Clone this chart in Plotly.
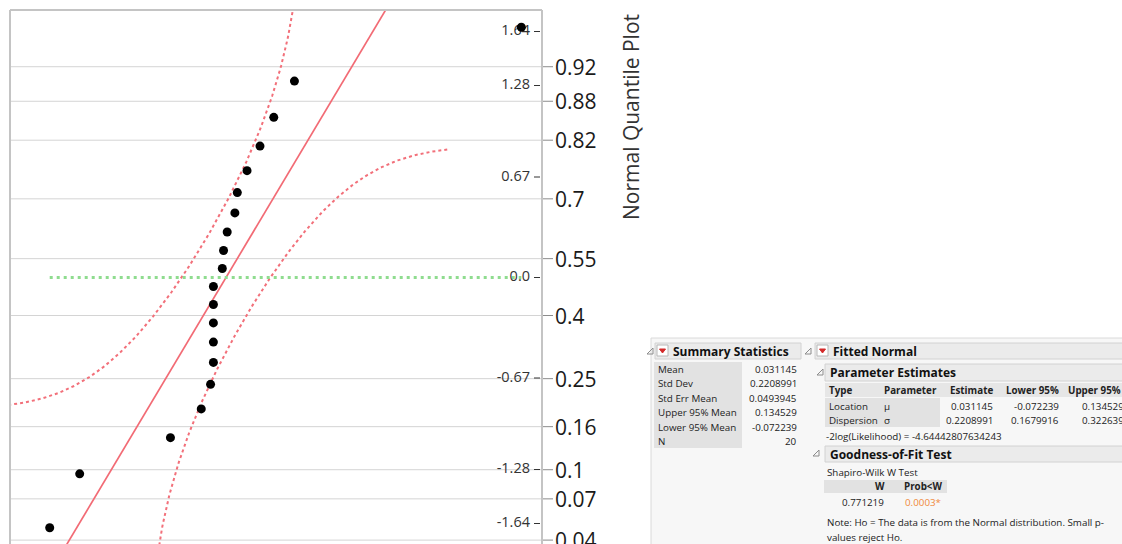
import numpy as np
import plotly.graph_objects as go
from statistics import NormalDist

# ---------------- data ----------------
values = [-0.404, -0.330, -0.106, -0.030, -0.007, 0.0, 0.0, 0.0, 0.0, 0.0,
          0.022, 0.025, 0.034, 0.053, 0.059, 0.083, 0.115, 0.149, 0.200, 0.760]
mean = 0.031145
std_dev = 0.2208991
lilliefors_d = 0.19
band_u_limit = 2.5

prob_ticks = [0.04, 0.07, 0.1, 0.16, 0.25, 0.4, 0.55, 0.7, 0.82, 0.88, 0.92]
prob_labels = ["0.04", "0.07", "0.1", "0.16", "0.25", "0.4", "0.55", "0.7", "0.82", "0.88", "0.92"]
z_ticks = [-1.64, -1.28, -0.67, 0.0, 0.67, 1.28, 1.64]
z_labels = ["-1.64", "-1.28", "-0.67", "0.0", "0.67", "1.28", "1.64"]
axis_title = "Normal Quantile Plot"

summary_labels = ["Mean", "Std Dev", "Std Err Mean", "Upper 95% Mean", "Lower 95% Mean", "N"]
summary_values = ["0.031145", "0.2208991", "0.0493945", "0.134529", "-0.072239", "20"]
param_columns = ["Type", "Parameter", "Estimate", "Lower 95%", "Upper 95%"]
param_types = ["Location", "Dispersion"]
param_symbols = ["μ", "σ"]
param_estimates = ["0.031145", "0.2208991"]
param_lower = ["-0.072239", "0.1679916"]
param_upper = ["0.134529", "0.3226393"]
loglik_text = "-2log(Likelihood) = -4.64442807634243"
sw_title = "Shapiro-Wilk W Test"
sw_columns = ["W", "Prob<W"]
sw_w = "0.771219"
sw_p = "0.0003*"
note_lines = ["Note: Ho = The data is from the Normal distribution. Small p-",
              "values reject Ho."]

# ---------------- geometry ----------------
W, H = 1122, 544
ML, MR, MT, MB = 10, 580, 10, 0
PW, PH = W - ML - MR, H - MT - MB
xmin, xmax = -0.502, 0.811
zmin, zmax = -1.7767, 1.7833
FONT = "Segoe UI, Open Sans, sans-serif"

def X(px):
    return (px - ML) / PW

def Y(py):
    return (H - MB - py) / PH

def xv(px):
    return xmin + (px - ML) / PW * (xmax - xmin)

nd = NormalDist()
n = len(values)
sorted_vals = sorted(values)
zq = [nd.inv_cdf((i + 1) / (n + 1)) for i in range(n)]
prob_z = [nd.inv_cdf(p) for p in prob_ticks]

fig = go.Figure()

shapes = []
annotations = []

# probability gridlines (drawn below traces)
for zt in prob_z:
    shapes.append(dict(type="line", xref="paper", yref="y", x0=0, x1=1, y0=zt, y1=zt,
                       line=dict(color="#d4d4d4", width=1), layer="below"))

# confidence bands (Lilliefors)
u = np.linspace(-band_u_limit, band_u_limit, 500)
cdf = np.array([nd.cdf(t) for t in u])
p_up = cdf + lilliefors_d
m = p_up < 0.99999
fig.add_trace(go.Scatter(x=mean + std_dev * u[m], y=[nd.inv_cdf(p) for p in p_up[m]],
                         mode="lines", line=dict(color="#f2707a", width=2, dash="3px,3px"),
                         hoverinfo="skip"))
p_lo = cdf - lilliefors_d
m = p_lo > 0.00001
fig.add_trace(go.Scatter(x=mean + std_dev * u[m], y=[nd.inv_cdf(p) for p in p_lo[m]],
                         mode="lines", line=dict(color="#f2707a", width=2, dash="3px,3px"),
                         hoverinfo="skip"))
# fitted normal line
zl = np.array([-2.2, 2.2])
fig.add_trace(go.Scatter(x=mean + std_dev * zl, y=zl, mode="lines",
                         line=dict(color="#f26b75", width=1.7), hoverinfo="skip"))
# reference line at z = 0
fig.add_trace(go.Scatter(x=[min(values), max(values)], y=[0, 0], mode="lines",
                         line=dict(color="#8fdc8f", width=3, dash="3px,4px"), hoverinfo="skip"))
# z tick labels inside plot
fig.add_trace(go.Scatter(x=[xv(530)] * len(z_ticks), y=z_ticks, mode="text", text=z_labels,
                         textposition="middle left",
                         textfont=dict(size=14.5, color="#333333", family=FONT), hoverinfo="skip"))
# data points
fig.add_trace(go.Scatter(x=sorted_vals, y=zq, mode="markers",
                         marker=dict(color="black", size=9), hoverinfo="skip"))

# z tick dashes
for zt in z_ticks:
    shapes.append(dict(type="line", xref="paper", yref="y", x0=X(534), x1=X(540), y0=zt, y1=zt,
                       line=dict(color="#333333", width=1)))
# probability ticks + labels (outside, right)
for zt, lab in zip(prob_z, prob_labels):
    shapes.append(dict(type="line", xref="paper", yref="y", x0=X(542), x1=X(553), y0=zt, y1=zt,
                       line=dict(color="#8c8c8c", width=1)))
    annotations.append(dict(x=X(554), y=zt, xref="paper", yref="y", text=lab, showarrow=False,
                            xanchor="left", yanchor="middle", borderpad=0,
                            font=dict(size=21, color="#1a1a1a", family=FONT)))
# frame left / top / right
shapes.append(dict(type="line", xref="paper", yref="paper", x0=0, x1=0, y0=-0.05, y1=1,
                   line=dict(color="#c4c4c4", width=2)))
shapes.append(dict(type="line", xref="paper", yref="paper", x0=0, x1=1, y0=1, y1=1,
                   line=dict(color="#c4c4c4", width=2)))
shapes.append(dict(type="line", xref="paper", yref="paper", x0=1, x1=1, y0=-0.05, y1=1,
                   line=dict(color="#c4c4c4", width=2)))

def rect(x0, y0, x1, y1, fill, line=None, lw=1):
    shapes.append(dict(type="rect", xref="paper", yref="paper",
                       x0=X(x0), x1=X(x1), y0=Y(y1), y1=Y(y0), fillcolor=fill,
                       line=dict(color=line if line else fill, width=lw if line else 0),
                       layer="above"))

def path(pts, fill, line, lw=1):
    d = "M " + " L ".join(f"{X(a)},{Y(b)}" for a, b in pts) + " Z"
    shapes.append(dict(type="path", xref="paper", yref="paper", path=d, fillcolor=fill,
                       line=dict(color=line, width=lw), layer="above"))

def disclosure(px, py):
    path([(px, py + 6), (px + 6, py + 6), (px + 6, py)], "rgba(0,0,0,0)", "#8c8c8c", 1)

def red_icon(px, py):
    rect(px, py, px + 11, py + 11, "white", "#b8b8b8", 1)
    path([(px + 2.5, py + 4), (px + 8.5, py + 4), (px + 5.5, py + 8)], "#d42a2a", "#d42a2a", 1)

def txt(s, px, py, size=9.8, bold=False, color="#222222", anchor="left"):
    annotations.append(dict(x=X(px), y=Y(py), xref="paper", yref="paper",
                            text=f"<b>{s}</b>" if bold else s, showarrow=False,
                            xanchor=anchor, yanchor="middle", borderpad=0,
                            font=dict(size=size, color=color, family=FONT)))

# ---------------- right panel ----------------
rect(651, 338, 1130, 560, "#f7f7f7", "#dadada", 1)

# Summary Statistics
disclosure(647, 348)
rect(655, 343, 801, 359, "#ebebeb", "#d2d2d2", 1)
red_icon(657, 345)
txt("Summary Statistics", 672, 351, size=12, bold=True, color="#111111")
rect(654, 362, 742, 448, "#e2e2e2")
row_y = [369, 383.5, 398, 412.5, 427, 441]
for lab, val, yy in zip(summary_labels, summary_values, row_y):
    txt(lab, 657, yy)
    txt(val, 798, yy, anchor="right")

# Fitted Normal
disclosure(805, 348)
rect(815, 343, 1130, 359, "#ebebeb", "#d2d2d2", 1)
red_icon(817, 345)
txt("Fitted Normal", 832, 351, size=12, bold=True, color="#111111")
disclosure(817, 369)
rect(825, 364, 1130, 381, "#ebebeb", "#d2d2d2", 1)
txt("Parameter Estimates", 829, 372, size=12, bold=True, color="#111111")
rect(825, 383, 1130, 397, "#e6e6e6")
rect(825, 398, 940, 427, "#e2e2e2")
txt(param_columns[0], 828, 390, bold=True)
txt(param_columns[1], 883, 390, bold=True)
txt(param_columns[2], 994, 390, bold=True, anchor="right")
txt(param_columns[3], 1060, 390, bold=True, anchor="right")
txt(param_columns[4], 1067, 390, bold=True)
for i, yy in enumerate([406, 420]):
    txt(param_types[i], 828, yy)
    txt(param_symbols[i], 883, yy)
    txt(param_estimates[i], 994, yy, anchor="right")
    txt(param_lower[i], 1060, yy, anchor="right")
    txt(param_upper[i], 1081, yy)
txt(loglik_text, 825, 436)

# Goodness-of-Fit
disclosure(813, 450)
rect(825, 446, 1130, 462, "#ebebeb", "#d2d2d2", 1)
txt("Goodness-of-Fit Test", 829, 454, size=12, bold=True, color="#111111")
txt(sw_title, 826, 472)
rect(824, 480, 947, 493, "#e2e2e2")
txt(sw_columns[0], 886, 486, bold=True, anchor="right")
txt(sw_columns[1], 943, 486, bold=True, anchor="right")
txt(sw_w, 885, 502, anchor="right")
txt(sw_p, 942, 502, anchor="right", color="#f08a3c")
txt(note_lines[0], 826, 522)
txt(note_lines[1], 826, 537)

# axis title
annotations.append(dict(x=X(631), y=Y(117), xref="paper", yref="paper", text=axis_title,
                        textangle=-90, showarrow=False, xanchor="center", yanchor="middle",
                        font=dict(size=21, color="#333333", family=FONT)))

fig.update_layout(
    width=W, height=H, autosize=False,
    margin=dict(l=ML, r=MR, t=MT, b=MB, pad=0),
    paper_bgcolor="white", plot_bgcolor="white", showlegend=False,
    xaxis=dict(range=[xmin, xmax], visible=False, fixedrange=True),
    yaxis=dict(range=[zmin, zmax], visible=False, showgrid=False, zeroline=False,
               fixedrange=True),
    shapes=shapes, annotations=annotations,
)

fig.write_html("out.html")
